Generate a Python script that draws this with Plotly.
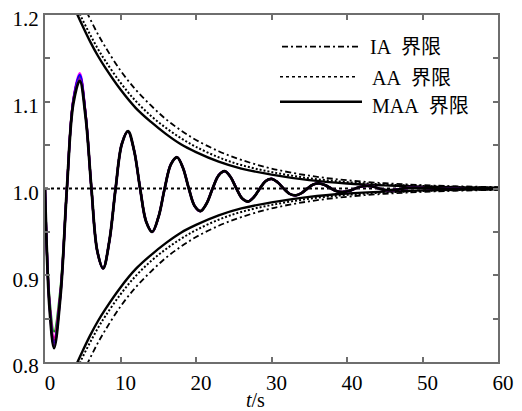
import plotly.graph_objects as go

# ---------------- data ----------------
# oscillation head section (differs per trace), t in s
t_head = [0.0, 0.6, 1.2, 2.05, 2.9, 3.75, 4.6, 5.375, 6.15]
head_black   = [1.0, 0.862, 0.816, 0.876, 1.0, 1.098, 1.124, 1.083, 1.0]
head_blue    = [1.0, 0.866, 0.822, 0.878, 1.0, 1.102, 1.131, 1.086, 1.0]
head_magenta = [1.0, 0.869, 0.828, 0.881, 1.0, 1.103, 1.133, 1.087, 1.0]
head_green   = [1.0, 0.873, 0.835, 0.885, 1.0, 1.101, 1.129, 1.085, 1.0]
head_red     = [1.0, 0.867, 0.825, 0.879, 1.0, 1.102, 1.130, 1.086, 1.0]
head_purple  = [1.0, 0.864, 0.819, 0.877, 1.0, 1.100, 1.127, 1.084, 1.0]

# common tail of the oscillation
t_tail = [6.925, 7.7, 8.525, 9.35, 10.175, 11.0, 11.8, 12.6, 13.4, 14.2,
          15.025, 15.85, 16.675, 17.5, 18.275, 19.05, 19.825, 20.6,
          21.4, 22.2, 23.0, 23.8, 24.575, 25.35, 26.125, 26.9,
          27.675, 28.45, 29.225, 30.0, 30.8, 31.6, 32.4, 33.2,
          33.975, 34.75, 35.525, 36.3, 37.1, 37.9, 38.7, 39.5,
          40.3, 41.1, 41.9, 42.7, 43.475, 44.25, 45.025, 45.8,
          46.6, 47.4, 48.2, 49.0, 52.0, 56.0, 60.0]
y_tail = [0.928, 0.908, 0.9395, 1.0, 1.0513, 1.066, 1.0438, 1.0, 0.9618, 0.950,
          0.967, 1.0, 1.0279, 1.036, 1.0237, 1.0, 0.9798, 0.974,
          0.9827, 1.0, 1.0152, 1.020, 1.0133, 1.0, 0.9885, 0.985,
          0.9901, 1.0, 1.0085, 1.011, 1.0072, 1.0, 0.9938, 0.992,
          0.9947, 1.0, 1.0046, 1.006, 1.0039, 1.0, 0.9968, 0.996,
          0.9973, 1.0, 1.0023, 1.003, 1.0021, 1.0, 0.9983, 0.998,
          0.9986, 1.0, 1.0008, 1.001, 1.0, 1.0, 1.0]

# envelope half-widths (deviation from 1.0)
t_env = [2, 3, 4, 5, 6, 7, 8, 10, 12, 14, 16, 18, 20, 23, 26, 30, 35, 40, 45, 50, 55, 60]
dev_maa = [0.251, 0.227, 0.206, 0.187, 0.169, 0.153, 0.139, 0.114, 0.093, 0.077, 0.063,
           0.051, 0.042, 0.031, 0.023, 0.016, 0.0096, 0.0058, 0.0036, 0.0022, 0.0013, 0.0008]
dev_aa = [0.257, 0.234, 0.213, 0.194, 0.177, 0.161, 0.147, 0.122, 0.101, 0.084, 0.070,
          0.058, 0.048, 0.036, 0.027, 0.019, 0.0118, 0.0074, 0.0046, 0.0029, 0.0018, 0.0011]
dev_ia = [0.278, 0.254, 0.233, 0.213, 0.195, 0.178, 0.163, 0.136, 0.114, 0.096, 0.080,
          0.067, 0.056, 0.043, 0.033, 0.023, 0.0148, 0.0095, 0.0061, 0.0039, 0.0025, 0.0016]

ref_t = [0, 60]
ref_y = [1.0, 1.0]

x_ticks = [0, 10, 20, 30, 40, 50, 60]
y_ticks = [0.8, 0.85, 0.9, 0.95, 1.0, 1.05, 1.1, 1.15, 1.2]
y_ticktext = ["0.8", "", "0.9", "", "1.0", "", "1.1", "", "1.2"]

legend_labels = ["IA\u00a0\u00a0界限", "AA\u00a0\u00a0界限", "MAA\u00a0\u00a0界限"]
x_title = "<i>t</i>/s"

# ---------------- figure ----------------
SERIF = "Liberation Serif, Times New Roman, Noto Sans CJK SC, serif"
fig = go.Figure()

# reference dotted line at 1.0
fig.add_trace(go.Scatter(x=ref_t, y=ref_y, mode="lines",
                         line=dict(color="black", width=2, dash="dot"), hoverinfo="skip"))

# envelopes
env_styles = [
    (dev_ia, dict(color="black", width=1.8, dash="6px,3px,2px,3px")),
    (dev_aa, dict(color="black", width=2, dash="2px,2px")),
    (dev_maa, dict(color="black", width=2.4)),
]
for dev, st in env_styles:
    fig.add_trace(go.Scatter(x=t_env, y=[1 + d for d in dev], mode="lines",
                             line=dict(shape="spline", **st), hoverinfo="skip"))
    fig.add_trace(go.Scatter(x=t_env, y=[1 - d for d in dev], mode="lines",
                             line=dict(shape="spline", **st), hoverinfo="skip"))

# oscillation traces
osc = [
    (head_green, "#00a000", 2.2),
    (head_magenta, "#ff00ff", 2.2),
    (head_red, "#e00000", 2.2),
    (head_blue, "#0000ff", 2.2),
    (head_purple, "#8000c0", 2.2),
    (head_black, "#000000", 2.8),
]
for head, col, w in osc:
    fig.add_trace(go.Scatter(x=t_head + t_tail, y=head + y_tail, mode="lines",
                             line=dict(color=col, width=w, shape="spline"),
                             hoverinfo="skip"))

# manual legend
PX0, PX1, PY0, PY1 = 45, 498, 15, 362
def px(x):
    return (x - PX0) / (PX1 - PX0)
def py(y):
    return (PY1 - y) / (PY1 - PY0)

leg_items = [
    (282, 360, 46.7, dict(color="black", width=1.8, dash="6px,3px,2px,3px"), 368, 47),
    (280, 357, 76.7, dict(color="black", width=1.6, dash="dot"), 370, 78),
    (280, 362, 101.7, dict(color="black", width=2.4), 370, 106),
]
for (x0, x1, yy, ln, tx, ty), lab in zip(leg_items, legend_labels):
    fig.add_shape(type="line", xref="paper", yref="paper",
                  x0=px(x0), x1=px(x1), y0=py(yy), y1=py(yy), line=ln)
    fig.add_annotation(xref="paper", yref="paper", x=px(tx), y=py(ty),
                       xanchor="left", yanchor="middle", showarrow=False,
                       text=lab, font=dict(family=SERIF, size=20, color="black"))

# x axis title
fig.add_annotation(xref="paper", yref="paper", x=px(255), y=py(400),
                   xanchor="center", yanchor="middle", showarrow=False,
                   text=x_title, font=dict(family=SERIF, size=20, color="black"))

axis_common = dict(showline=True, linecolor="#6e6e6e", linewidth=2, mirror="ticks",
                   ticks="inside", ticklen=5, tickwidth=1.5, tickcolor="#6e6e6e",
                   showgrid=False, zeroline=False, automargin=False,
                   tickfont=dict(family=SERIF, size=21, color="black"))

fig.update_layout(
    width=522, height=411,
    margin=dict(l=45, r=24, t=15, b=49),
    paper_bgcolor="white", plot_bgcolor="white",
    showlegend=False,
    xaxis=dict(range=[0, 60], tickvals=x_ticks, ticktext=[str(v) for v in x_ticks],
               ticklabelshift=5, ticklabelstandoff=1, **axis_common),
    yaxis=dict(range=[0.8, 1.2], tickvals=y_ticks, ticktext=y_ticktext,
               ticklabelshift=4, **axis_common),
)

fig.write_html("out.html")
